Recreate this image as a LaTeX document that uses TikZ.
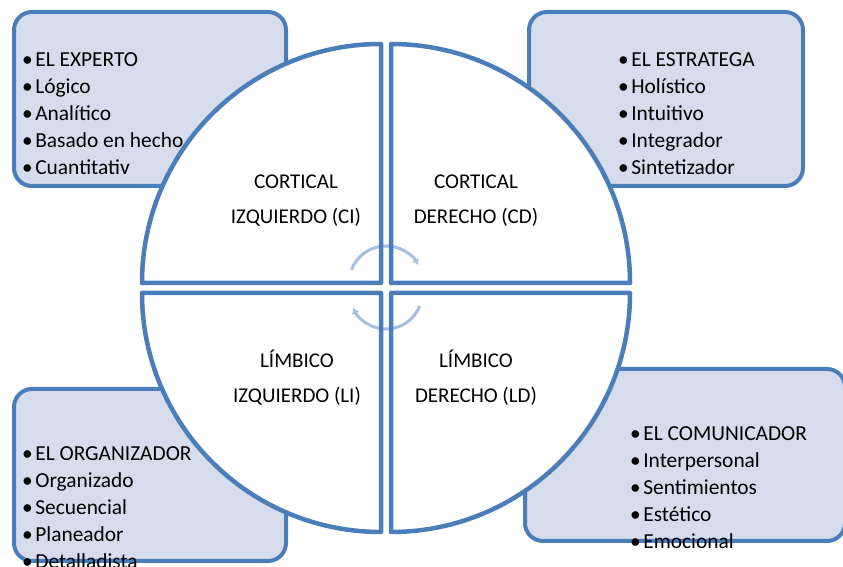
\documentclass[tikz,border=0pt]{standalone}
\usepackage{fontspec}
\setmainfont{Carlito}
\usetikzlibrary{arrows.meta,positioning,calc}
\definecolor{azul}{RGB}{74,126,187}
\definecolor{celeste}{RGB}{214,220,236}
\definecolor{flecha}{RGB}{167,191,222}
\newcommand{\vin}{\textbullet\kern2.5pt}
\tikzset{caja/.style={draw=azul,fill=celeste,line width=4pt,rounded corners=18pt},
  lista/.style={anchor=north west,inner sep=0pt,align=left,font=\fontsize{21.4}{27}\selectfont},
  cuad/.style={draw=azul,line width=4.5pt,line join=round},
  giro/.style={draw=flecha,line width=3pt,-{Latex[length=6pt,width=8pt]}},
  etiq/.style={anchor=north,inner sep=0pt,align=center,font=\fontsize{21}{35}\selectfont}}
\begin{document}
\begin{tikzpicture}[x=1pt,y=1pt]
\useasboundingbox (0,0) rectangle (843,567);
\coordinate (c) at (386,279);

% cajas de estilos
\draw[caja] (14,381) rectangle (286,555);
\draw[caja] (529,381) rectangle (803,555);
\draw[caja] (14,6) rectangle (286,178);
\draw[caja] (525,26) rectangle (845,198);

\node[lista] (experto) at (22,521) {\rule{0pt}{20pt}\vin EL EXPERTO\\\vin Lógico\\\vin Analítico\\\vin Basado en hecho\\\vin Cuantitativ};
\node[lista] (estratega) at (618,521) {\rule{0pt}{20pt}\vin EL ESTRATEGA\\\vin Holístico\\\vin Intuitivo\\\vin Integrador\\\vin Sintetizador};
\node[lista] (organizador) at (22,127) {\rule{0pt}{20pt}\vin EL ORGANIZADOR\\\vin Organizado\\\vin Secuencial\\\vin Planeador\\\vin Detalladista};
\node[lista] (comunicador) at (630,147) {\rule{0pt}{20pt}\vin EL COMUNICADOR\\\vin Interpersonal\\\vin Sentimientos\\\vin Estético\\\vin Emocional};

% cuadrantes
\foreach \a in {0,90,180,270}
  \fill[white] ($(c)+(\a+45:7.07)$) -- ++(\a:239) arc[start angle=\a,end angle=\a+90,radius=239pt] -- cycle;

\draw[giro] ($(c)+(0,5)+(159:37)$) arc[start angle=159,end angle=29,radius=37pt];
\draw[giro] ($(c)+(0,-5)+(339:36)$) arc[start angle=339,end angle=204,radius=36pt];

\foreach \a in {0,90,180,270}
  \draw[cuad] ($(c)+(\a+45:7.07)$) -- ++(\a:239) arc[start angle=\a,end angle=\a+90,radius=239pt] -- cycle;

\node[etiq] (ci) at (296,398.7) {\rule{0pt}{20pt}CORTICAL\\IZQUIERDO (CI)};
\node[etiq] (cd) at (476,398.7) {\rule{0pt}{20pt}CORTICAL\\DERECHO (CD)};
\node[etiq] (li) at (297,219.7) {\rule{0pt}{20pt}LÍMBICO\\IZQUIERDO (LI)};
\node[etiq] (ld) at (476,219.7) {\rule{0pt}{20pt}LÍMBICO\\DERECHO (LD)};
\end{tikzpicture}
\end{document}
